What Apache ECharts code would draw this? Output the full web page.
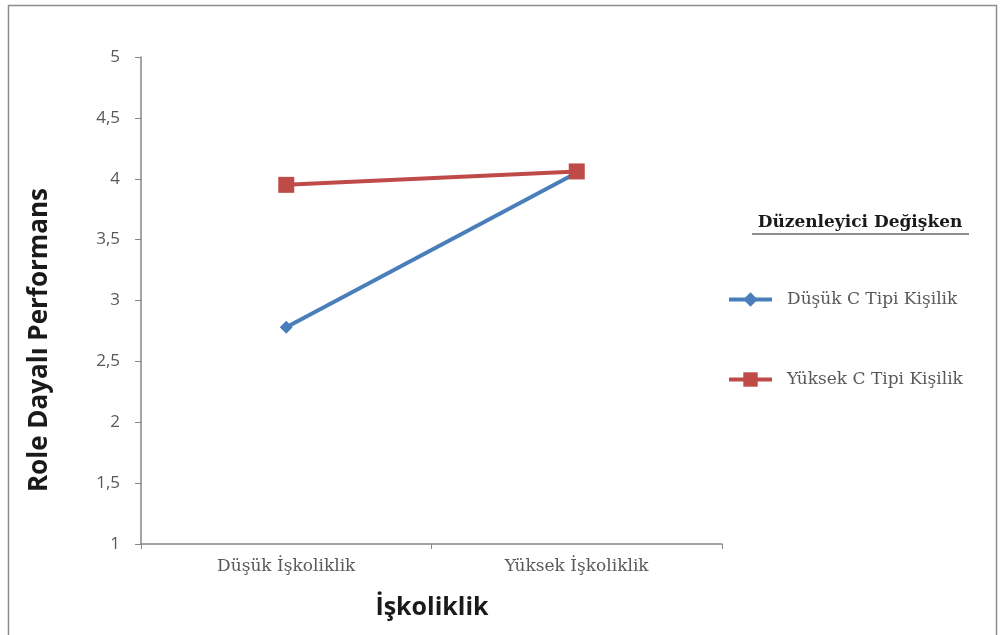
<!DOCTYPE html>
<html>
<head>
    <meta charset="UTF-8">
    <title>Role Dayalı Performans</title>
    <script src="https://cdn.jsdelivr.net/npm/echarts@6/dist/echarts.min.js"></script>
    <style>
        html, body { margin: 0; padding: 0; background: #fff; }
        #chart { width: 1000px; height: 635px; }
    </style>
</head>
<body>
    <div id="chart"></div>
    <script>
        // veriler
        var categories = ['Düşük İşkoliklik', 'Yüksek İşkoliklik'];
        var seriesNames = ['Düşük C Tipi Kişilik', 'Yüksek C Tipi Kişilik'];
        var dusukC = [2.78, 4.05];
        var yuksekC = [3.95, 4.06];

        var chart = echarts.init(document.getElementById('chart'));
        var serif = 'DejaVu Serif';
        var sans = 'Open Sans';

        var option = {
            animation: false,
            grid: { left: 141, top: 57, width: 581, height: 487 },
            legend: {
                orient: 'vertical',
                left: 722,
                top: 286,
                itemWidth: 43,
                itemHeight: 18,
                itemGap: 63,
                textStyle: { fontFamily: serif, fontSize: 17, color: '#595959', padding: [0, 0, 0, 10] },
                data: [
                    { name: seriesNames[0], itemStyle: { color: '#4a7ebb' } },
                    { name: seriesNames[1], itemStyle: { color: '#be4b48' } }
                ],
                lineStyle: { width: 4 }
            },
            xAxis: {
                type: 'category',
                data: categories,
                boundaryGap: true,
                axisLine: { lineStyle: { color: '#868686', width: 1.5 } },
                axisTick: { show: true, alignWithLabel: false, length: 5, lineStyle: { color: '#868686' } },
                axisLabel: { fontFamily: serif, fontSize: 17, color: '#595959', margin: 14 }
            },
            yAxis: {
                type: 'value',
                min: 1,
                max: 5,
                interval: 0.5,
                splitLine: { show: false },
                axisLine: { show: true, lineStyle: { color: '#868686', width: 1.5 } },
                axisTick: { show: true, length: 6, lineStyle: { color: '#868686' } },
                axisLabel: {
                    fontFamily: sans, fontSize: 17, color: '#595959', margin: 21,
                    formatter: function (v) { return String(v).replace('.', ','); }
                }
            },
            series: [
                {
                    name: seriesNames[0],
                    type: 'line',
                    data: dusukC,
                    symbol: 'diamond',
                    symbolSize: 13,
                    lineStyle: { width: 4, color: '#4a7ebb' },
                    itemStyle: { color: '#4a7ebb' }
                },
                {
                    name: seriesNames[1],
                    type: 'line',
                    data: yuksekC,
                    symbol: 'rect',
                    symbolSize: 16,
                    lineStyle: { width: 4, color: '#be4b48' },
                    itemStyle: { color: '#be4b48' }
                }
            ],
            graphic: [
                {
                    type: 'rect',
                    shape: { x: 8.5, y: 5.5, width: 988, height: 640 },
                    style: { fill: 'none', stroke: '#8c8c8c', lineWidth: 1.5 },
                    silent: true
                },
                {
                    type: 'text',
                    x: 432, y: 608,
                    style: {
                        text: 'İşkoliklik', fontFamily: sans, fontWeight: 'bold', fontSize: 25,
                        fill: '#1a1a1a', align: 'center', verticalAlign: 'middle'
                    }
                },
                {
                    type: 'text',
                    x: 40, y: 340,
                    rotation: Math.PI / 2,
                    style: {
                        text: 'Role Dayalı Performans', fontFamily: sans, fontWeight: 'bold', fontSize: 26,
                        fill: '#1a1a1a', align: 'center', verticalAlign: 'middle'
                    }
                },
                {
                    type: 'text',
                    x: 860, y: 223,
                    style: {
                        text: 'Düzenleyici Değişken', fontFamily: serif, fontWeight: 'bold', fontSize: 17,
                        fill: '#1a1a1a', align: 'center', verticalAlign: 'middle'
                    }
                },
                {
                    type: 'line',
                    shape: { x1: 752, y1: 234, x2: 969, y2: 234 },
                    style: { stroke: '#1a1a1a', lineWidth: 1 }
                }
            ]
        };
        chart.setOption(option);
    </script>
</body>
</html>
